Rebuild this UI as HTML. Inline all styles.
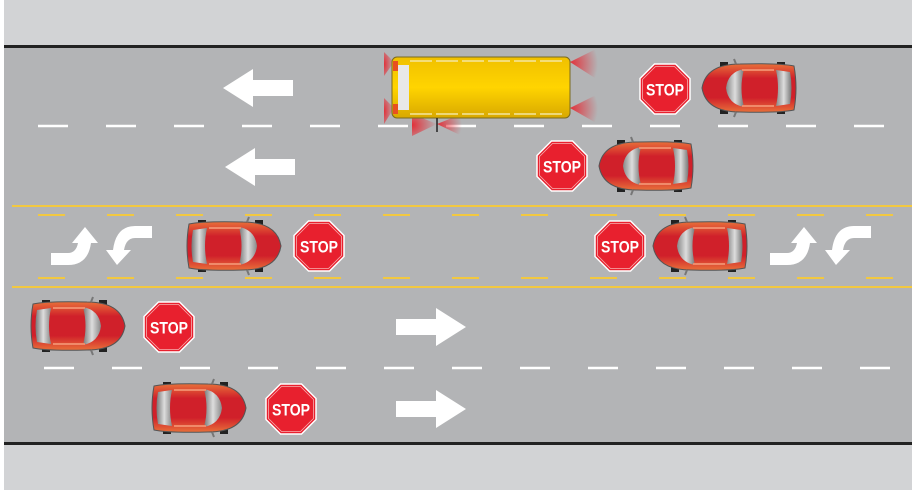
<!DOCTYPE html>
<html><head><style>body{margin:0;background:#fff}svg{display:block}</style></head><body>
<svg width="916" height="494" viewBox="0 0 916 494" xmlns="http://www.w3.org/2000/svg">
<defs>
<linearGradient id="body" x1="0" y1="0" x2="0" y2="1"><stop offset="0" stop-color="#e8703a"/><stop offset="0.3" stop-color="#d0202a"/><stop offset="0.7" stop-color="#d0202a"/><stop offset="1" stop-color="#e8703a"/></linearGradient>
<linearGradient id="glass" x1="0" y1="0" x2="1" y2="0"><stop offset="0" stop-color="#777"/><stop offset="0.5" stop-color="#ddd"/><stop offset="1" stop-color="#888"/></linearGradient>
<linearGradient id="busg" x1="0" y1="0" x2="0" y2="1"><stop offset="0" stop-color="#f0c000"/><stop offset="0.5" stop-color="#ffd400"/><stop offset="1" stop-color="#d8a800"/></linearGradient>
<radialGradient id="flare" cx="0" cy="0.5" r="1"><stop offset="0" stop-color="#e8202a" stop-opacity="0.9"/><stop offset="1" stop-color="#e8202a" stop-opacity="0"/></radialGradient>
<g id="car">
<rect x="-35" y="-26" width="8" height="5" fill="#222"/><rect x="-35" y="21" width="8" height="5" fill="#222"/>
<rect x="22" y="-26" width="8" height="5" fill="#222"/><rect x="22" y="21" width="8" height="5" fill="#222"/>
<path d="M-44,-22 Q-48,0 -44,22 Q-30,25 10,24 Q44,24 48,0 Q44,-24 10,-24 Q-30,-25 -44,-22Z" fill="url(#body)" stroke="#555" stroke-width="1"/>
<path d="M-40,-16 Q-43,0 -40,16 L-26,18 Q-30,0 -26,-18Z" fill="url(#glass)"/>
<path d="M6,-19 Q22,-16 24,0 Q22,16 6,19 Q11,0 6,-19Z" fill="url(#glass)"/>
<path d="M-24,-18 L8,-18 M-24,18 L8,18" stroke="#f08a6a" stroke-width="2"/>
<path d="M14,-24 L16,-29 M14,24 L16,29" stroke="#777" stroke-width="2"/>
</g>
<g id="stop">
<polygon points="-10.5,-25 10.5,-25 25,-10.5 25,10.5 10.5,25 -10.5,25 -25,10.5 -25,-10.5" fill="#e8202e" stroke="#fff" stroke-width="1.5"/>
<polygon points="-9.5,-22.5 9.5,-22.5 22.5,-9.5 22.5,9.5 9.5,22.5 -9.5,22.5 -22.5,9.5 -22.5,-9.5" fill="none" stroke="#f6b0b0" stroke-width="0.8"/>
<text x="0" y="6.5" text-anchor="middle" font-family="Liberation Sans, sans-serif" font-weight="bold" font-size="17" fill="#fff" textLength="38" lengthAdjust="spacingAndGlyphs">STOP</text>
</g>
<polygon id="arr" points="-35,-8 5,-8 5,-19 35,0 5,19 5,8 -35,8" fill="#fff"/>
</defs>
<rect width="916" height="494" fill="#fff"/>
<rect x="4" y="0" width="908" height="490" fill="#d2d3d5"/>
<rect x="4" y="46" width="908" height="397" fill="#b3b4b6"/>
<rect x="4" y="45" width="908" height="3" fill="#222"/>
<rect x="4" y="442" width="908" height="3" fill="#222"/>
<g stroke="#fff" stroke-width="2.5" stroke-dasharray="30 38">
<line x1="38" y1="126" x2="900" y2="126"/>
<line x1="44" y1="368" x2="900" y2="368"/>
</g>
<g stroke="#f2c840" stroke-width="2">
<line x1="12" y1="206" x2="912" y2="206"/>
<line x1="12" y1="287" x2="912" y2="287"/>
<line x1="38" y1="215" x2="900" y2="215" stroke-dasharray="27 42"/>
<line x1="38" y1="278" x2="900" y2="278" stroke-dasharray="27 42"/>
</g>
<use href="#arr" transform="translate(258,88) scale(-1,1)"/>
<use href="#arr" transform="translate(260,167) scale(-1,1)"/>
<use href="#arr" transform="translate(431,327)"/>
<use href="#arr" transform="translate(431,409)"/>
<g id="turn" fill="#fff">
<path d="M51,265 L51,253 L68,253 Q76,253 78,243 L72,243 L85,227 L98,243 L91,243 Q88,265 68,265Z"/>
<path d="M152,226 L152,238 L135,238 Q126,238 124,250 L131,250 L117,265 L106,250 L113,250 Q116,226 135,226Z"/>
</g>
<use href="#turn" transform="translate(719,0)"/>
<g fill="url(#flare)">
<polygon points="570,62 598,48 598,80"/>
<polygon points="570,108 598,94 598,124"/>
<polygon points="394,62 384,52 384,76"/>
<polygon points="394,108 384,98 384,124"/>
<polygon points="437,124 462,114 462,136"/>
<polygon points="437,124 412,114 412,136"/>
</g>
<rect x="392" y="57" width="178" height="61" rx="5" fill="url(#busg)" stroke="#7a6a20" stroke-width="1"/>
<path d="M410,61 H566 M410,114 H566" stroke="#f4e6a0" stroke-width="1.5" stroke-dasharray="22 4"/>
<rect x="398" y="65" width="11" height="45" fill="#e8e8e8"/>
<rect x="393" y="61" width="5" height="10" fill="#e85020"/><rect x="393" y="104" width="5" height="10" fill="#e85020"/>
<line x1="437" y1="118" x2="437" y2="132" stroke="#222" stroke-width="1.5"/>
<use href="#car" transform="translate(750,88) scale(-1,1)"/>
<use href="#car" transform="translate(647,166) scale(-1,1)"/>
<use href="#car" transform="translate(233,246)"/>
<use href="#car" transform="translate(701,246) scale(-1,1)"/>
<use href="#car" transform="translate(77,326)"/>
<use href="#car" transform="translate(198,408)"/>
<use href="#stop" x="665" y="89"/>
<use href="#stop" x="562" y="166"/>
<use href="#stop" x="319" y="246"/>
<use href="#stop" x="620" y="246"/>
<use href="#stop" x="169" y="327"/>
<use href="#stop" x="291" y="409"/>
</svg>
</body></html>
